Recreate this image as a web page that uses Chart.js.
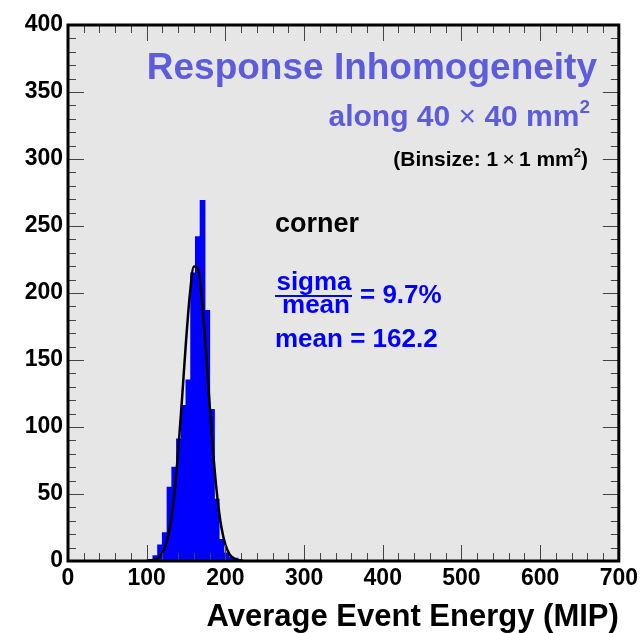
<!DOCTYPE html>
<html lang="en">
<head>
    <meta charset="UTF-8">
    <title>Response Inhomogeneity</title>
    <script src="https://cdn.jsdelivr.net/npm/chart.js"></script>
    <style>
        body { margin: 0; background: #fff; }
        #chart { display: block; }
    </style>
</head>
<body>
    <canvas id="chart" width="642" height="633"></canvas>

    <script>
        // Histogram: bin centres (bin width 6 MIP) and counts per bin
        const binCenters = [105, 111, 117, 123, 129, 135, 141, 147, 153, 159,
                            165, 171, 177, 183, 189, 195, 201, 207, 213, 219];
        const binCounts  = [1, 4, 12, 21, 55, 70, 91, 116, 135, 215,
                            242, 269, 187, 113, 46, 16, 6, 3, 2, 1];

        // Gaussian fit curve
        const fitX = [100, 105, 110, 115, 120, 125, 130, 135, 140, 145, 150, 155, 160,
                      165, 170, 175, 180, 185, 190, 195, 200, 205, 210, 215, 220];
        const fitY = [0.1, 0.3, 0.9, 2.4, 6.0, 13.4, 27.1, 49.5, 81.7, 121.8, 164.1, 199.8, 219.8,
                      218.5, 196.3, 159.3, 116.7, 77.4, 46.3, 25.0, 12.2, 5.4, 2.2, 0.8, 0.3];

        const xTicks = [0, 100, 200, 300, 400, 500, 600, 700];
        const yTicks = [0, 50, 100, 150, 200, 250, 300, 350, 400];

        const FONT = '"Liberation Sans", Arial, Helvetica, sans-serif';
        const TITLE_COLOR = '#5c5cdc';
        const BLUE = '#0000ff';

        // draws a row of text pieces (different fonts / raised superscripts)
        function drawParts(ctx, parts, x, y, align) {
            let total = 0;
            parts.forEach(p => { ctx.font = p.font; total += ctx.measureText(p.t).width; });
            let cx = align === 'right' ? x - total : (align === 'center' ? x - total / 2 : x);
            ctx.textAlign = 'left';
            ctx.textBaseline = 'alphabetic';
            parts.forEach(p => {
                ctx.font = p.font;
                ctx.fillText(p.t, cx, y + (p.dy || 0));
                cx += ctx.measureText(p.t).width;
            });
        }

        const rootFrame = {
            id: 'rootFrame',
            beforeDraw(chart) {
                const { ctx, chartArea: a } = chart;
                ctx.save();
                ctx.fillStyle = '#e6e6e6';
                ctx.fillRect(a.left, a.top, a.right - a.left, a.bottom - a.top);
                ctx.restore();
            },
            afterDatasetsDraw(chart) {
                const { ctx, chartArea: a, scales } = chart;
                const xs = scales.x, ys = scales.y;
                ctx.save();
                ctx.strokeStyle = '#444';
                ctx.lineWidth = 1;
                ctx.beginPath();
                // x ticks: major every 100, minor every 20, on bottom and top
                for (let v = 0; v <= 700; v += 20) {
                    const px = Math.round(xs.getPixelForValue(v)) + 0.5;
                    const len = v % 100 === 0 ? 16 : 8;
                    ctx.moveTo(px, a.bottom); ctx.lineTo(px, a.bottom - len);
                    ctx.moveTo(px, a.top); ctx.lineTo(px, a.top + len);
                }
                // y ticks: major every 50, minor every 10, on left and right
                for (let v = 0; v <= 400; v += 10) {
                    const py = Math.round(ys.getPixelForValue(v)) + 0.5;
                    const len = v % 50 === 0 ? 16 : 8;
                    ctx.moveTo(a.left, py); ctx.lineTo(a.left + len, py);
                    ctx.moveTo(a.right, py); ctx.lineTo(a.right - len, py);
                }
                ctx.stroke();
                ctx.strokeStyle = '#000';
                ctx.lineWidth = 3;
                ctx.strokeRect(a.left, a.top, a.right - a.left, a.bottom - a.top);
                ctx.restore();
            },
            afterDraw(chart) {
                const ctx = chart.ctx;
                ctx.save();
                ctx.fillStyle = TITLE_COLOR;
                drawParts(ctx, [{ t: 'Response Inhomogeneity', font: 'bold 37px ' + FONT }], 597, 79, 'right');
                drawParts(ctx, [
                    { t: 'along 40 ', font: 'bold 30px ' + FONT },
                    { t: '\u00d7', font: '30px ' + FONT },
                    { t: ' 40 mm', font: 'bold 30px ' + FONT },
                    { t: '2', font: 'bold 19px ' + FONT, dy: -13 }
                ], 590, 126, 'right');

                ctx.fillStyle = '#000';
                drawParts(ctx, [
                    { t: '(Binsize: 1', font: 'bold 21px ' + FONT },
                    { t: '\u2009\u00d7\u2009', font: '21px ' + FONT },
                    { t: '1 mm', font: 'bold 21px ' + FONT },
                    { t: '2', font: 'bold 13px ' + FONT, dy: -9 },
                    { t: ')', font: 'bold 21px ' + FONT }
                ], 588, 166, 'right');
                drawParts(ctx, [{ t: 'corner', font: 'bold 27px ' + FONT }], 275, 232, 'left');

                ctx.fillStyle = BLUE;
                drawParts(ctx, [{ t: 'sigma', font: 'bold 26px ' + FONT }], 314, 290, 'center');
                drawParts(ctx, [{ t: 'mean', font: 'bold 26px ' + FONT }], 316, 313, 'center');
                ctx.fillRect(275, 295, 77, 2);
                drawParts(ctx, [{ t: '= 9.7%', font: 'bold 26px ' + FONT }], 360, 303, 'left');
                drawParts(ctx, [{ t: 'mean = 162.2', font: 'bold 26px ' + FONT }], 275, 347, 'left');
                ctx.restore();
            }
        };

        const chart = new Chart(document.getElementById('chart'), {
            type: 'bar',
            data: {
                datasets: [{
                    type: 'line',
                    label: 'fit',
                    data: fitX.map((x, i) => ({ x: x, y: fitY[i] })),
                    borderColor: '#000',
                    borderWidth: 2.5,
                    pointRadius: 0,
                    tension: 0.4,
                    cubicInterpolationMode: 'monotone',
                    fill: false,
                    order: 0
                }, {
                    label: 'corner',
                    data: binCenters.map((x, i) => ({ x: x, y: binCounts[i] })),
                    backgroundColor: BLUE,
                    borderWidth: 0,
                    inflateAmount: 0.5,
                    barPercentage: 1,
                    categoryPercentage: 1,
                    grouped: false,
                    order: 1
                }]
            },
            options: {
                responsive: false,
                animation: false,
                layout: { padding: { top: 25, right: 20, left: 0, bottom: 0 } },
                plugins: {
                    legend: { display: false },
                    tooltip: { enabled: false }
                },
                scales: {
                    x: {
                        type: 'linear',
                        min: 0,
                        max: 700,
                        offset: false,
                        afterFit: s => { s.height = 72; },
                        afterBuildTicks: s => { s.ticks = xTicks.map(v => ({ value: v })); },
                        grid: { display: false, drawTicks: false },
                        border: { display: false },
                        ticks: {
                            autoSkip: false,
                            maxRotation: 0,
                            padding: 4,
                            color: '#000',
                            font: { family: FONT, size: 23, weight: 'bold' }
                        },
                        title: {
                            display: true,
                            text: 'Average Event Energy (MIP)',
                            align: 'end',
                            color: '#000',
                            padding: { top: 0, bottom: -3 },
                            font: { family: FONT, size: 31, weight: 'bold' }
                        }
                    },
                    y: {
                        min: 0,
                        max: 400,
                        afterFit: s => { s.width = 68; },
                        afterBuildTicks: s => { s.ticks = yTicks.map(v => ({ value: v })); },
                        grid: { display: false, drawTicks: false },
                        border: { display: false },
                        ticks: {
                            autoSkip: false,
                            padding: 5,
                            color: '#000',
                            font: { family: FONT, size: 23, weight: 'bold' }
                        }
                    }
                }
            },
            plugins: [rootFrame]
        });
    </script>
</body>
</html>
